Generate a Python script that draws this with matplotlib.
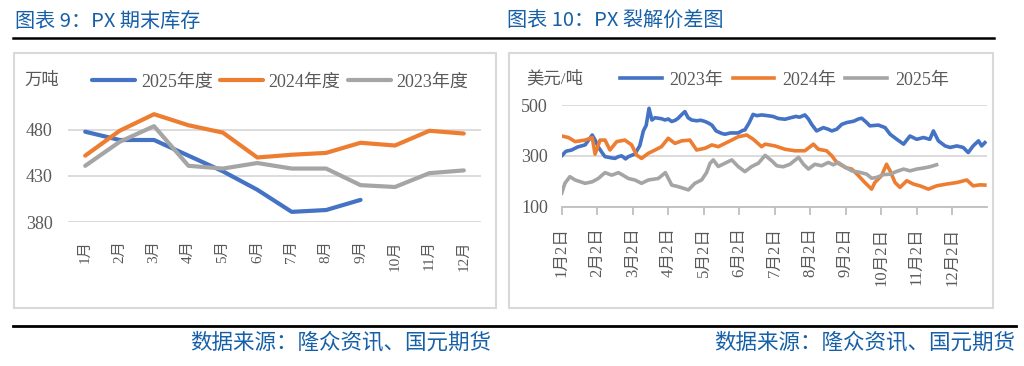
import matplotlib
matplotlib.use('Agg')
import matplotlib.pyplot as plt
from matplotlib.lines import Line2D
from matplotlib.patches import Rectangle

plt.rcParams['font.family'] = ['Liberation Serif', 'Noto Sans CJK SC']

# ---- 图表9 PX期末库存 (万吨)
months = [f'{i}月' for i in range(1, 13)]
inv_2025 = [478, 469, 469, 452, 435, 415, 391, 393, 404]
inv_2024 = [452, 479, 497, 485, 477, 450, 453, 455, 466, 463, 479, 476]
inv_2023 = [441, 467, 484, 441, 438, 444, 438, 438, 420, 418, 433, 436]

# ---- 图表10 PX裂解价差 (美元/吨), x = 距1月2日的月数
date_labels = [f'{i}月2日' for i in range(1, 13)]
t2023 = [0.00, 0.12, 0.28, 0.45, 0.66, 0.86, 0.95, 1.03, 1.15, 1.22, 1.40, 1.50, 1.60, 1.69, 1.80,
         1.88, 2.06, 2.20, 2.30, 2.38, 2.46, 2.54, 2.63, 2.72, 2.81, 2.91, 3.00, 3.10, 3.20, 3.28,
         3.40, 3.47, 3.56, 3.66, 3.80, 3.92, 4.04, 4.12, 4.23, 4.35, 4.51, 4.60, 4.75, 4.97, 5.10,
         5.16, 5.28, 5.39, 5.50, 5.63, 5.80, 5.95, 6.10, 6.29, 6.45, 6.60, 6.70, 6.85, 6.95, 7.04,
         7.18, 7.37, 7.50, 7.61, 7.75, 7.89, 8.03, 8.22, 8.36, 8.45, 8.59, 8.68, 8.92, 9.11, 9.25,
         9.44, 9.63, 9.81, 10.00, 10.19, 10.37, 10.47, 10.61, 10.80, 10.94, 11.13, 11.31, 11.45,
         11.59, 11.74, 11.83, 11.92]
v2023 = [300, 318, 323, 335, 343, 382, 360, 335, 310, 297, 292, 290, 297, 300, 288,
         297, 307, 340, 398, 420, 487, 441, 450, 448, 446, 441, 445, 435, 440, 448,
         465, 474, 450, 441, 438, 440, 435, 430, 421, 398, 388, 385, 390, 390, 400,
         402, 430, 463, 458, 461, 458, 455, 447, 444, 450, 455, 452, 461, 445, 424,
         398, 411, 405, 398, 405, 424, 431, 436, 445, 448, 431, 418, 421, 411, 385,
         365, 346, 378, 365, 372, 365, 398, 359, 339, 333, 339, 333, 313,
         339, 359, 339, 352]
t2024 = [0.00, 0.19, 0.38, 0.66, 0.86, 0.94, 1.08, 1.22, 1.36, 1.55, 1.78, 1.97, 2.11, 2.25, 2.44,
         2.63, 2.81, 3.00, 3.19, 3.38, 3.61, 3.80, 4.04, 4.23, 4.41, 4.60, 4.79, 4.97, 5.21, 5.40,
         5.63, 5.73, 6.01, 6.29, 6.57, 6.85, 7.09, 7.23, 7.46, 7.61, 7.75, 7.99, 8.17, 8.36, 8.54,
         8.73, 8.82, 8.87, 9.01, 9.15, 9.25, 9.39, 9.53, 9.72, 9.91, 10.09, 10.33, 10.56, 10.84,
         11.13, 11.41, 11.59, 11.78, 11.92]
v2024 = [378, 372, 356, 362, 372, 307, 362, 362, 323, 356, 362, 343, 303, 290, 310,
         323, 336, 369, 349, 359, 362, 323, 330, 343, 336, 349, 362, 375, 382, 365,
         336, 346, 339, 326, 320, 320, 346, 326, 320, 300, 274, 254, 248, 222, 195,
         169, 195, 202, 222, 267, 241, 195, 176, 202, 189, 182, 169, 182, 189,
         195, 205, 182, 186, 185]
t2025 = [0.00, 0.09, 0.23, 0.38, 0.66, 0.86, 1.03, 1.22, 1.41, 1.60, 1.88, 2.06, 2.25, 2.44, 2.72,
         2.92, 3.10, 3.28, 3.57, 3.75, 3.94, 4.08, 4.18, 4.27, 4.41, 4.60, 4.79, 4.97, 5.16, 5.35,
         5.54, 5.73, 5.92, 6.06, 6.24, 6.43, 6.67, 6.81, 6.95, 7.13, 7.32, 7.51, 7.65, 7.79, 8.03,
         8.17, 8.40, 8.59, 8.73, 8.87, 9.06, 9.25, 9.44, 9.63, 9.81, 10.00, 10.19, 10.37, 10.56]
v2025 = [153, 192, 218, 205, 192, 198, 211, 234, 224, 234, 211, 205, 192, 205, 211,
         234, 185, 179, 166, 192, 205, 234, 271, 284, 258, 271, 284, 258, 238, 258,
         271, 302, 280, 261, 257, 267, 294, 267, 248, 267, 261, 274, 265, 274, 252,
         241, 235, 228, 212, 215, 226, 228, 239, 248, 241, 248, 252, 257, 265]

BLUE, ORANGE, GRAY = '#4472C4', '#ED7D31', '#A5A5A5'
TXT = '#595959'
GRID = '#D9D9D9'
TITLE = '#1760A8'
CJK = ['Noto Sans CJK SC', 'DejaVu Sans']

W, H = 1024, 366
fig = plt.figure(figsize=(W / 100, H / 100), dpi=100)


def fx(px):
    return px / W


def fy(py):
    return 1 - py / H


# frames, rules, titles
for x0, x1 in [(14, 496), (509, 993)]:
    fig.add_artist(Rectangle((fx(x0), fy(308)), fx(x1) - fx(x0), fy(53) - fy(308),
                             transform=fig.transFigure, fill=False, ec='#D9D9D9', lw=1.5))
fig.add_artist(Line2D([fx(13), fx(994)], [fy(38), fy(38)], transform=fig.transFigure, color='black', lw=1.8))
fig.add_artist(Line2D([fx(13), fx(1016)], [fy(326), fy(326)], transform=fig.transFigure, color='black', lw=2))
fig.text(fx(15), fy(21), '图表 9：PX 期末库存', family=CJK, fontsize=14.5, color=TITLE, va='center')
fig.text(fx(507), fy(21), '图表 10：PX 裂解价差图', family=CJK, fontsize=14.5, color=TITLE, va='center')
fig.text(fx(491), fy(343), '数据来源：隆众资讯、国元期货', family=CJK, fontsize=15.5, color=TITLE, va='center', ha='right')
fig.text(fx(1015), fy(343), '数据来源：隆众资讯、国元期货', family=CJK, fontsize=15.5, color=TITLE, va='center', ha='right')

# ---- left chart
ax1 = fig.add_axes([fx(68), fy(222), fx(481) - fx(68), fy(93) - fy(222)])
x = list(range(1, 13))
ax1.plot(x[:len(inv_2025)], inv_2025, color=BLUE, lw=3, solid_capstyle='round', label='2025年度')
ax1.plot(x, inv_2024, color=ORANGE, lw=3, solid_capstyle='round', label='2024年度')
ax1.plot(x, inv_2023, color=GRAY, lw=3, solid_capstyle='round', label='2023年度')
ax1.set_xlim(0.5, 12.5)
ax1.set_ylim(380, 520)
ax1.set_yticks([380, 430, 480])
ax1.set_xticks(x)
ax1.set_xticklabels(months, rotation=90, va='top', ha='center')
ax1.grid(axis='y', color=GRID, lw=1.3)
ax1.set_axisbelow(True)
for s in ax1.spines.values():
    s.set_visible(False)
ax1.tick_params(length=0, colors=TXT)
ax1.tick_params(axis='y', labelsize=13, pad=11)
ax1.tick_params(axis='x', labelsize=11, pad=13)
fig.text(fx(24), fy(81), '万吨', fontsize=12.5, color=TXT, va='center')
ax1.legend(loc='center left', bbox_to_anchor=(fx(92), fy(82)), bbox_transform=fig.transFigure,
           ncol=3, frameon=False, borderpad=0, borderaxespad=0, fontsize=13,
           handlelength=2.4, handletextpad=0.3, columnspacing=0.4, labelcolor=TXT)

# ---- right chart
ax2 = fig.add_axes([fx(561.7), fy(206.7), fx(987) - fx(561.7), fy(105) - fy(206.7)])
ax2.plot(t2023, v2023, color=BLUE, lw=2.6, label='2023年')
ax2.plot(t2024, v2024, color=ORANGE, lw=2.6, label='2024年')
ax2.plot(t2025, v2025, color=GRAY, lw=2.6, label='2025年')
ax2.set_xlim(0, 11.98)
ax2.set_ylim(100, 500)
ax2.set_yticks([100, 300, 500])
ax2.set_xticks(range(12))
ax2.set_xticklabels(date_labels, rotation=90, va='top', ha='center')
ax2.grid(axis='y', color=GRID, lw=1.3)
ax2.set_axisbelow(True)
for k in ['top', 'right', 'left']:
    ax2.spines[k].set_visible(False)
ax2.spines['bottom'].set_color('#BFBFBF')
ax2.spines['bottom'].set_linewidth(1.3)
ax2.tick_params(axis='y', length=0, colors=TXT, labelsize=13, pad=10)
ax2.tick_params(axis='x', direction='out', length=6, width=1.3, color='#BFBFBF',
                labelcolor=TXT, labelsize=12, pad=9)
fig.text(fx(526), fy(79), '美元/吨', fontsize=12.5, color=TXT, va='center')
ax2.legend(loc='center left', bbox_to_anchor=(fx(620), fy(80)), bbox_transform=fig.transFigure,
           ncol=3, frameon=False, borderpad=0, borderaxespad=0, fontsize=13,
           handlelength=2.3, handletextpad=0.45, columnspacing=0.5, labelcolor=TXT)

fig.savefig('out.png', dpi=100)
